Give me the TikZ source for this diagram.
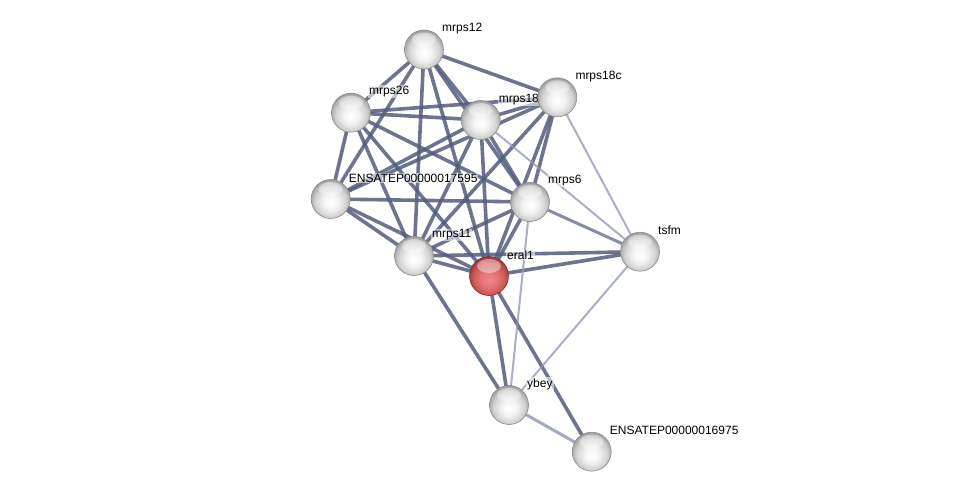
\documentclass[tikz,border=0pt]{standalone}
\usepackage{fontspec}
\setmainfont{Liberation Sans}
\pgfdeclarelayer{bg}
\pgfsetlayers{bg,main}
\definecolor{edgedark}{RGB}{82,92,124}
\definecolor{edgelight}{RGB}{140,148,178}
\pgfdeclareradialshading{grayorb}{\pgfpoint{0bp}{-5bp}}{%
  color(0bp)=(white); color(10bp)=(white!95!black); color(20bp)=(white!82!black);
  color(27bp)=(white!62!black); color(30bp)=(white!55!black); color(50bp)=(white!55!black)}
\pgfdeclareradialshading{redorb}{\pgfpoint{0bp}{-5bp}}{%
  color(0bp)=(rgb,255:red,240;green,135;blue,135); color(10bp)=(rgb,255:red,230;green,118;blue,118);
  color(20bp)=(rgb,255:red,205;green,90;blue,90);
  color(27bp)=(rgb,255:red,160;green,55;blue,55); color(30bp)=(rgb,255:red,140;green,45;blue,45);
  color(50bp)=(rgb,255:red,140;green,45;blue,45)}
\tikzset{
  prot/.style={circle, minimum size=39pt, inner sep=0pt, draw=white!55!black, line width=0.6pt, shading=grayorb,
    path picture={\fill[white, fill opacity=0.4] ([yshift=10pt]path picture bounding box.center) ellipse (12pt and 7pt);}},
  query/.style={prot, shading=redorb, draw={rgb,255:red,130;green,45;blue,45}},
  lbl/.style={anchor=west, font=\fontsize{12}{12}\selectfont, inner sep=1pt, fill=white, fill opacity=0.55, text opacity=1},
  strong/.style={draw=edgedark, line width=3.6pt, draw opacity=0.85},
  medium/.style={draw=edgedark, line width=3pt, draw opacity=0.7},
  weak/.style={draw=edgelight, line width=2pt, draw opacity=0.75},
  weakmed/.style={draw=edgelight, line width=3pt, draw opacity=0.8},
}
\begin{document}
\begin{tikzpicture}[x=1pt,y=-1pt]
\useasboundingbox (0,0) rectangle (975,497);
% nodes
\node[prot] (A) at (424,49.5) {};
\node[prot] (B) at (351,112.7) {};
\node[prot] (C) at (480.7,120) {};
\node[prot] (E) at (330.7,199) {};
\node[prot] (F) at (530,202) {};
\node[prot] (G) at (414,256) {};
\node[query] (H) at (489,276) {};
\node[prot] (I) at (640,251.7) {};
\node[prot] (J) at (509,405) {};
\node[prot] (K) at (591.7,451.7) {};
\node[prot] (D) at (557.3,97.3) {};
\begin{pgfonlayer}{bg}
% edges
\foreach \a/\b in {A/B,A/C,A/D,A/E,A/F,A/G,A/H,
                   B/C,B/D,B/E,B/F,B/G,B/H,
                   C/D,C/E,C/F,C/G,C/H,
                   D/E,D/F,D/G,D/H,
                   E/F,E/G,E/H,
                   F/G,F/H,
                   G/H,G/I,G/J,
                   H/I,H/J,H/K}
  \draw[strong] (\a.center) -- (\b.center);
\draw[medium] (F.center) -- (I.center);
\foreach \a/\b in {C/I,D/I,F/J,I/J}
  \draw[weak] (\a.center) -- (\b.center);
\draw[weakmed] (J.center) -- (K.center);
% labels
\node[lbl] (lA) at ([xshift=17pt,yshift=21pt]A.center) {mrps12};
\node[lbl] (lB) at ([xshift=17pt,yshift=21pt]B.center) {mrps26};
\node[lbl] (lC) at ([xshift=17pt,yshift=21pt]C.center) {mrps18b};
\node[lbl] (lD) at ([xshift=17pt,yshift=21pt]D.center) {mrps18c};
\node[lbl] (lE) at ([xshift=17pt,yshift=21pt]E.center) {ENSATEP00000017595};
\node[lbl] (lF) at ([xshift=17pt,yshift=21pt]F.center) {mrps6};
\node[lbl] (lG) at ([xshift=17pt,yshift=21pt]G.center) {mrps11};
\node[lbl] (lH) at ([xshift=17pt,yshift=21pt]H.center) {eral1};
\node[lbl] (lI) at ([xshift=17pt,yshift=21pt]I.center) {tsfm};
\node[lbl] (lJ) at ([xshift=17pt,yshift=21pt]J.center) {ybey};
\node[lbl] (lK) at ([xshift=17pt,yshift=21pt]K.center) {ENSATEP00000016975};
\end{pgfonlayer}
\end{tikzpicture}
\end{document}
